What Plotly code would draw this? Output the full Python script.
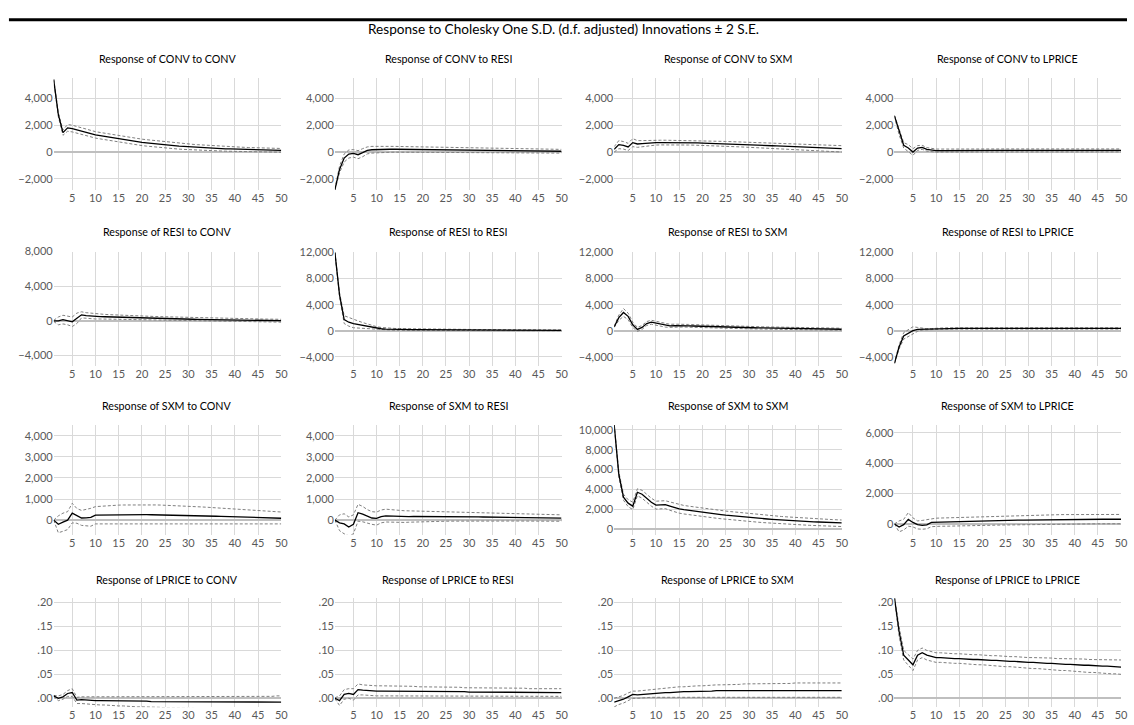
import plotly.graph_objects as go

periods = list(range(1, 51))
variables = ["CONV", "RESI", "SXM", "LPRICE"]

# ---------------- Row 1: Response of CONV ----------------
conv_conv = [5400, 2800, 1450, 1800, 1750, 1650, 1600, 1450, 1350, 1280,
             1220, 1160, 1100, 1040, 980, 920, 870, 820, 770, 720,
             680, 640, 600, 565, 530, 500, 470, 440, 415, 390,
             365, 345, 325, 305, 290, 270, 255, 240, 228, 215,
             203, 192, 182, 172, 163, 155, 147, 139, 132, 125]
conv_conv_up = [5450, 2950, 1650, 2050, 2000, 1900, 1850, 1700, 1600, 1520,
                1460, 1400, 1340, 1280, 1220, 1160, 1110, 1060, 1010, 960,
                920, 880, 840, 800, 765, 730, 695, 660, 630, 600,
                572, 546, 522, 498, 476, 455, 435, 416, 398, 381,
                365, 350, 336, 323, 311, 300, 290, 281, 272, 264]
conv_conv_lo = [5350, 2650, 1250, 1550, 1500, 1400, 1350, 1200, 1100, 1040,
                980, 920, 860, 800, 740, 680, 630, 580, 530, 480,
                440, 400, 360, 330, 295, 265, 240, 215, 195, 175,
                155, 138, 122, 108, 96, 84, 72, 62, 54, 46,
                38, 31, 24, 18, 12, 6, 1, -4, -8, -12]

conv_resi = [-2800, -1300, -450, -150, -100, -200, -50, 120, 170, 190,
             200, 205, 205, 205, 200, 198, 195, 190, 186, 182,
             178, 173, 168, 163, 158, 153, 148, 143, 138, 133,
             128, 123, 118, 113, 108, 104, 100, 96, 92, 88,
             84, 81, 78, 75, 72, 69, 66, 63, 60, 58]
conv_resi_up = [-2750, -1050, -150, 150, 180, 100, 250, 380, 420, 430,
                430, 430, 425, 420, 412, 405, 398, 390, 383, 375,
                368, 360, 352, 345, 338, 330, 323, 316, 309, 302,
                295, 288, 282, 276, 270, 264, 258, 252, 247, 242,
                237, 232, 227, 222, 218, 214, 210, 206, 202, 198]
conv_resi_lo = [-2850, -1550, -750, -450, -380, -500, -350, -140, -80, -50,
                -30, -20, -15, -10, -12, -10, -8, -10, -11, -11,
                -12, -14, -16, -19, -22, -24, -27, -30, -33, -36,
                -39, -42, -46, -50, -54, -56, -58, -60, -63, -66,
                -69, -70, -71, -72, -74, -76, -78, -80, -82, -82]

conv_sxm = [200, 550, 500, 380, 700, 600, 620, 660, 690, 700,
            705, 708, 708, 706, 702, 697, 690, 683, 675, 666,
            656, 645, 634, 622, 610, 597, 584, 570, 556, 542,
            528, 513, 498, 483, 468, 452, 437, 422, 406, 391,
            376, 361, 346, 331, 316, 302, 288, 274, 260, 247]
conv_sxm_up = [400, 850, 780, 650, 1000, 850, 850, 870, 880, 880,
               880, 880, 878, 875, 870, 865, 858, 851, 843, 835,
               826, 817, 808, 798, 788, 778, 767, 756, 745, 733,
               722, 710, 698, 686, 674, 662, 650, 638, 626, 614,
               600, 586, 572, 558, 544, 530, 516, 502, 488, 474]
conv_sxm_lo = [0, 250, 220, 110, 400, 350, 390, 450, 500, 520,
               530, 536, 538, 537, 534, 529, 522, 515, 507, 497,
               486, 473, 460, 446, 432, 416, 401, 384, 367, 351,
               334, 316, 298, 280, 262, 242, 224, 206, 186, 168,
               150, 132, 114, 96, 78, 62, 46, 30, 14, 0]

conv_lprice = [2700, 1500, 500, 300, 0, 300, 350, 200, 130, 100,
               110, 115, 118, 120, 120, 120, 120, 120, 120, 120,
               120, 120, 120, 120, 120, 120, 120, 120, 120, 120,
               120, 120, 120, 120, 120, 120, 120, 120, 120, 120,
               120, 120, 120, 120, 120, 120, 120, 120, 120, 120]
conv_lprice_up = [2750, 1700, 700, 550, 250, 480, 500, 330, 250, 220,
                  220, 225, 228, 230, 230, 230, 230, 230, 230, 230,
                  230, 230, 230, 230, 230, 230, 230, 230, 230, 230,
                  230, 230, 230, 230, 230, 230, 230, 230, 230, 230,
                  230, 230, 230, 230, 230, 230, 230, 230, 230, 230]
conv_lprice_lo = [2650, 1300, 300, 50, -250, 120, 200, 70, 20, -10,
                  0, 5, 8, 10, 10, 10, 10, 10, 10, 10,
                  10, 10, 10, 10, 10, 10, 10, 10, 10, 10,
                  10, 10, 10, 10, 10, 10, 10, 10, 10, 10,
                  10, 10, 10, 10, 10, 10, 10, 10, 10, 10]

# ---------------- Row 2: Response of RESI ----------------
resi_conv = [0, 0, 150, 50, -100, 300, 700, 620, 560, 520,
             500, 480, 460, 440, 420, 400, 385, 370, 355, 340,
             325, 310, 296, 282, 268, 255, 242, 229, 216, 204,
             192, 180, 168, 157, 146, 135, 125, 115, 105, 96,
             87, 78, 70, 62, 54, 47, 40, 34, 28, 22]
resi_conv_up = [60, 450, 650, 550, 450, 900, 1050, 950, 880, 820,
                780, 750, 720, 690, 665, 640, 620, 600, 580, 560,
                540, 522, 505, 488, 472, 456, 440, 425, 410, 396,
                382, 368, 355, 342, 330, 318, 306, 295, 284, 273,
                263, 253, 243, 234, 225, 216, 208, 200, 192, 185]
resi_conv_lo = [-60, -450, -350, -450, -650, -300, 350, 290, 240, 220,
                220, 210, 200, 190, 175, 160, 150, 140, 130, 120,
                110, 98, 87, 76, 64, 54, 44, 33, 22, 12,
                2, -8, -19, -28, -38, -48, -56, -65, -74, -81,
                -89, -97, -103, -110, -117, -122, -128, -132, -136, -141]

resi_resi = [12000, 5500, 1700, 1300, 1100, 950, 800, 650, 500, 380,
             300, 250, 220, 200, 190, 180, 172, 165, 158, 152,
             146, 140, 135, 130, 125, 120, 116, 112, 108, 104,
             100, 96, 93, 90, 87, 84, 81, 78, 75, 72,
             70, 68, 66, 64, 62, 60, 58, 56, 54, 52]
resi_resi_up = [12050, 5800, 2300, 2000, 1750, 1500, 1250, 1000, 800, 620,
                500, 420, 370, 340, 320, 305, 292, 280, 270, 260,
                251, 242, 234, 226, 219, 212, 206, 200, 194, 188,
                183, 178, 173, 168, 164, 160, 156, 152, 148, 145,
                142, 139, 136, 133, 130, 127, 124, 121, 118, 116]
resi_resi_lo = [11950, 5200, 1100, 700, 450, 400, 350, 300, 220, 150,
                100, 80, 70, 60, 60, 55, 52, 50, 46, 44,
                41, 38, 36, 34, 31, 28, 26, 24, 22, 20,
                17, 14, 13, 12, 10, 8, 6, 4, 2, 0,
                -2, -3, -4, -5, -6, -7, -8, -9, -10, -12]

resi_sxm = [600, 2000, 2800, 2200, 900, 200, 500, 1100, 1300, 1150,
            950, 800, 750, 780, 800, 780, 750, 720, 690, 660,
            640, 620, 600, 580, 560, 540, 520, 500, 482, 465,
            450, 435, 420, 405, 390, 376, 362, 348, 335, 322,
            310, 298, 287, 276, 266, 256, 247, 238, 229, 220]
resi_sxm_up = [700, 2400, 3400, 2700, 1300, 500, 800, 1400, 1600, 1450,
               1250, 1050, 980, 1000, 1020, 990, 960, 930, 900, 870,
               845, 820, 795, 770, 748, 726, 705, 684, 664, 645,
               627, 610, 593, 577, 561, 546, 531, 517, 503, 490,
               477, 465, 453, 441, 430, 419, 408, 398, 388, 378]
resi_sxm_lo = [500, 1600, 2200, 1700, 500, -100, 200, 800, 1000, 850,
               650, 550, 520, 560, 580, 570, 540, 510, 480, 450,
               435, 420, 405, 390, 372, 354, 335, 316, 300, 285,
               273, 260, 247, 233, 219, 206, 193, 179, 167, 154,
               143, 131, 121, 111, 102, 93, 86, 78, 70, 62]

resi_lprice = [-5000, -2500, -800, -400, 0, 200, 230, 200, 220, 300,
               330, 340, 345, 348, 350, 350, 350, 350, 350, 350,
               350, 350, 350, 350, 350, 350, 350, 350, 350, 350,
               350, 350, 350, 350, 350, 350, 350, 350, 350, 350,
               350, 350, 350, 350, 350, 350, 350, 350, 350, 350]
resi_lprice_up = [-4950, -2200, -300, 100, 600, 500, 350, 300, 330, 400,
                  430, 440, 445, 448, 450, 450, 450, 450, 450, 450,
                  450, 450, 450, 450, 450, 450, 450, 450, 450, 450,
                  450, 450, 450, 450, 450, 450, 450, 450, 450, 450,
                  450, 450, 450, 450, 450, 450, 450, 450, 450, 450]
resi_lprice_lo = [-5050, -2800, -1300, -900, -500, -100, 100, 100, 110, 200,
                  230, 240, 245, 248, 250, 250, 250, 250, 250, 250,
                  250, 250, 250, 250, 250, 250, 250, 250, 250, 250,
                  250, 250, 250, 250, 250, 250, 250, 250, 250, 250,
                  250, 250, 250, 250, 250, 250, 250, 250, 250, 250]

# ---------------- Row 3: Response of SXM ----------------
sxm_conv = [0, -200, -100, 0, 330, 200, 100, 110, 130, 240,
            245, 248, 250, 252, 254, 256, 258, 260, 260, 260,
            258, 256, 253, 250, 246, 242, 238, 233, 228, 222,
            216, 210, 204, 197, 190, 183, 176, 169, 162, 155,
            148, 141, 134, 127, 120, 113, 107, 101, 95, 89]
sxm_conv_up = [0, 200, 330, 400, 800, 550, 460, 500, 560, 640,
               660, 680, 695, 705, 712, 718, 722, 725, 727, 728,
               727, 724, 720, 715, 709, 701, 692, 683, 672, 661,
               649, 637, 624, 611, 597, 583, 569, 555, 540, 526,
               512, 497, 483, 468, 454, 440, 426, 412, 398, 385]
sxm_conv_lo = [0, -600, -530, -450, -130, -150, -250, -260, -290, -180,
               -180, -182, -184, -186, -188, -190, -192, -193, -194, -195,
               -196, -197, -197, -197, -197, -197, -197, -196, -196, -195,
               -194, -193, -192, -191, -190, -189, -188, -187, -186, -185,
               -184, -183, -183, -182, -182, -181, -181, -180, -180, -180]

sxm_resi = [0, -130, -180, -330, -200, 350, 280, 180, 100, 80,
            170, 200, 190, 170, 160, 165, 170, 172, 173, 173,
            172, 171, 170, 168, 166, 164, 162, 160, 158, 156,
            154, 151, 149, 146, 143, 140, 137, 134, 131, 128,
            125, 122, 119, 116, 113, 110, 107, 104, 101, 98]
sxm_resi_up = [0, 250, 300, 150, 250, 750, 650, 500, 400, 380,
               480, 520, 500, 470, 450, 445, 440, 435, 430, 425,
               420, 414, 408, 402, 396, 390, 384, 378, 372, 366,
               360, 354, 348, 342, 336, 330, 324, 318, 312, 306,
               300, 294, 288, 282, 276, 270, 265, 260, 255, 250]
sxm_resi_lo = [0, -500, -650, -750, -650, -50, -80, -150, -200, -240,
               -130, -90, -100, -110, -120, -110, -100, -90, -82, -75,
               -70, -65, -60, -56, -52, -49, -46, -44, -42, -41,
               -40, -40, -40, -40, -40, -40, -41, -42, -43, -44,
               -45, -46, -47, -48, -49, -50, -51, -52, -53, -54]

sxm_sxm = [10500, 5500, 3200, 2600, 2300, 3700, 3500, 3100, 2700, 2400,
           2450, 2450, 2300, 2150, 2020, 1940, 1870, 1800, 1740, 1680,
           1620, 1560, 1500, 1445, 1390, 1340, 1290, 1245, 1200, 1155,
           1115, 1075, 1035, 1000, 965, 930, 900, 870, 840, 815,
           790, 765, 742, 720, 698, 678, 658, 640, 622, 605]
sxm_sxm_up = [10550, 5750, 3500, 2950, 2700, 4050, 3900, 3500, 3100, 2800,
              2850, 2850, 2720, 2580, 2450, 2370, 2300, 2230, 2165, 2100,
              2040, 1980, 1920, 1862, 1805, 1752, 1700, 1652, 1605, 1558,
              1500, 1455, 1410, 1370, 1330, 1290, 1255, 1220, 1185, 1155,
              1125, 1095, 1065, 1038, 1012, 987, 963, 940, 918, 900]
sxm_sxm_lo = [10450, 5250, 2900, 2250, 1950, 3350, 3100, 2700, 2300, 2000,
              2050, 2050, 1880, 1720, 1590, 1510, 1440, 1370, 1315, 1260,
              1200, 1140, 1080, 1028, 975, 928, 880, 838, 795, 752,
              715, 677, 640, 605, 570, 539, 510, 482, 455, 431,
              408, 385, 364, 344, 324, 306, 288, 272, 256, 240]

sxm_lprice = [0, -200, -50, 300, 100, -50, -100, -60, 100, 110,
              115, 120, 125, 130, 135, 145, 155, 165, 175, 185,
              195, 205, 215, 223, 230, 238, 245, 252, 258, 264,
              270, 275, 280, 284, 288, 292, 295, 298, 300, 302,
              304, 306, 307, 308, 309, 310, 310, 311, 311, 311]
sxm_lprice_up = [0, 200, 300, 750, 400, 200, 230, 280, 350, 380,
                 390, 400, 410, 420, 430, 442, 455, 467, 480, 492,
                 503, 514, 525, 535, 545, 554, 562, 570, 577, 584,
                 590, 595, 600, 604, 608, 611, 614, 616, 618, 620,
                 621, 622, 623, 624, 624, 625, 625, 625, 625, 625]
sxm_lprice_lo = [0, -520, -400, -150, -200, -330, -350, -320, -180, -150,
                 -150, -150, -148, -145, -140, -133, -125, -117, -110, -103,
                 -95, -87, -80, -73, -67, -60, -53, -47, -41, -36,
                 -30, -25, -20, -16, -12, -8, -5, -2, 0, 2,
                 4, 6, 7, 8, 9, 10, 10, 11, 11, 11]

# ---------------- Row 4: Response of LPRICE ----------------
lprice_conv = [0.005, 0.000, 0.003, 0.010, 0.012, -0.004, -0.003, -0.004, -0.005, -0.005,
               -0.005, -0.005, -0.005, -0.005, -0.006, -0.006, -0.006, -0.006, -0.006, -0.006,
               -0.006, -0.007, -0.007, -0.007, -0.007, -0.007, -0.007, -0.007, -0.007, -0.007,
               -0.008, -0.008, -0.008, -0.008, -0.008, -0.008, -0.008, -0.008, -0.008, -0.008,
               -0.008, -0.008, -0.008, -0.008, -0.008, -0.008, -0.008, -0.008, -0.008, -0.008]
lprice_conv_up = [0.006, 0.005, 0.008, 0.016, 0.020, 0.002, 0.003, 0.003, 0.003, 0.003,
                  0.003, 0.003, 0.003, 0.003, 0.003, 0.003, 0.003, 0.003, 0.003, 0.003,
                  0.003, 0.003, 0.003, 0.003, 0.003, 0.003, 0.003, 0.003, 0.003, 0.003,
                  0.003, 0.003, 0.003, 0.003, 0.003, 0.004, 0.004, 0.004, 0.004, 0.004,
                  0.004, 0.004, 0.004, 0.004, 0.004, 0.004, 0.004, 0.004, 0.005, 0.005]
lprice_conv_lo = [0.004, -0.005, -0.002, 0.004, 0.004, -0.011, -0.011, -0.012, -0.013, -0.013,
                  -0.014, -0.014, -0.015, -0.015, -0.016, -0.016, -0.017, -0.017, -0.018, -0.018,
                  -0.018, -0.019, -0.019, -0.019, -0.020, -0.020, -0.020, -0.021, -0.021, -0.021,
                  -0.021, -0.022, -0.022, -0.022, -0.022, -0.022, -0.022, -0.023, -0.023, -0.023,
                  -0.023, -0.023, -0.023, -0.023, -0.023, -0.023, -0.023, -0.023, -0.023, -0.023]

lprice_resi = [0.000, -0.005, 0.008, 0.010, 0.008, 0.018, 0.017, 0.016, 0.015, 0.015,
               0.015, 0.015, 0.015, 0.015, 0.015, 0.015, 0.015, 0.015, 0.014, 0.014,
               0.014, 0.014, 0.014, 0.014, 0.014, 0.014, 0.014, 0.014, 0.014, 0.013,
               0.013, 0.013, 0.013, 0.013, 0.013, 0.013, 0.013, 0.013, 0.013, 0.013,
               0.013, 0.013, 0.012, 0.012, 0.012, 0.012, 0.012, 0.012, 0.012, 0.012]
lprice_resi_up = [0.001, 0.005, 0.018, 0.020, 0.020, 0.030, 0.028, 0.027, 0.026, 0.026,
                  0.026, 0.026, 0.026, 0.025, 0.025, 0.025, 0.025, 0.025, 0.024, 0.024,
                  0.024, 0.024, 0.024, 0.023, 0.023, 0.023, 0.023, 0.023, 0.022, 0.022,
                  0.022, 0.022, 0.022, 0.022, 0.021, 0.021, 0.021, 0.021, 0.021, 0.021,
                  0.021, 0.021, 0.020, 0.020, 0.020, 0.020, 0.020, 0.020, 0.020, 0.020]
lprice_resi_lo = [-0.001, -0.015, -0.002, 0.000, -0.004, 0.007, 0.007, 0.006, 0.005, 0.005,
                  0.005, 0.005, 0.005, 0.005, 0.005, 0.005, 0.005, 0.005, 0.005, 0.005,
                  0.005, 0.005, 0.005, 0.005, 0.005, 0.005, 0.005, 0.005, 0.005, 0.005,
                  0.005, 0.005, 0.005, 0.005, 0.005, 0.004, 0.004, 0.004, 0.004, 0.004,
                  0.004, 0.004, 0.004, 0.004, 0.004, 0.004, 0.004, 0.004, 0.004, 0.004]

lprice_sxm = [-0.008, -0.005, -0.002, 0.003, 0.008, 0.007, 0.008, 0.009, 0.010, 0.011,
              0.011, 0.012, 0.012, 0.013, 0.013, 0.014, 0.014, 0.014, 0.015, 0.015,
              0.015, 0.015, 0.016, 0.016, 0.016, 0.016, 0.016, 0.016, 0.017, 0.017,
              0.017, 0.017, 0.017, 0.017, 0.017, 0.017, 0.017, 0.017, 0.017, 0.017,
              0.017, 0.017, 0.016, 0.016, 0.016, 0.016, 0.016, 0.016, 0.016, 0.016]
lprice_sxm_up = [0.000, 0.003, 0.006, 0.011, 0.015, 0.015, 0.016, 0.017, 0.019, 0.020,
                 0.021, 0.022, 0.022, 0.023, 0.024, 0.024, 0.025, 0.025, 0.026, 0.026,
                 0.027, 0.027, 0.028, 0.028, 0.028, 0.029, 0.029, 0.029, 0.030, 0.030,
                 0.030, 0.030, 0.031, 0.031, 0.031, 0.031, 0.031, 0.031, 0.031, 0.032,
                 0.032, 0.032, 0.032, 0.032, 0.032, 0.032, 0.032, 0.032, 0.032, 0.032]
lprice_sxm_lo = [-0.018, -0.013, -0.010, -0.005, 0.000, 0.000, 0.001, 0.001, 0.002, 0.002,
                 0.002, 0.002, 0.003, 0.003, 0.003, 0.003, 0.003, 0.003, 0.003, 0.003,
                 0.003, 0.003, 0.003, 0.003, 0.003, 0.003, 0.003, 0.003, 0.003, 0.003,
                 0.003, 0.003, 0.003, 0.003, 0.003, 0.003, 0.002, 0.002, 0.002, 0.002,
                 0.002, 0.002, 0.002, 0.002, 0.002, 0.002, 0.002, 0.002, 0.002, 0.002]

lprice_lprice = [0.210, 0.140, 0.090, 0.080, 0.070, 0.090, 0.095, 0.090, 0.087, 0.085,
                 0.085, 0.084, 0.084, 0.083, 0.083, 0.082, 0.082, 0.081, 0.081, 0.080,
                 0.080, 0.079, 0.079, 0.078, 0.078, 0.077, 0.077, 0.076, 0.076, 0.075,
                 0.075, 0.074, 0.074, 0.073, 0.073, 0.072, 0.072, 0.071, 0.071, 0.070,
                 0.070, 0.069, 0.069, 0.068, 0.068, 0.067, 0.067, 0.066, 0.066, 0.065]
lprice_lprice_up = [0.212, 0.150, 0.100, 0.090, 0.082, 0.100, 0.105, 0.100, 0.097, 0.095,
                    0.095, 0.094, 0.094, 0.093, 0.093, 0.092, 0.092, 0.091, 0.091, 0.090,
                    0.090, 0.089, 0.089, 0.088, 0.088, 0.087, 0.087, 0.086, 0.086, 0.085,
                    0.085, 0.085, 0.084, 0.084, 0.084, 0.083, 0.083, 0.083, 0.082, 0.082,
                    0.082, 0.082, 0.081, 0.081, 0.081, 0.081, 0.080, 0.080, 0.080, 0.080]
lprice_lprice_lo = [0.208, 0.130, 0.080, 0.070, 0.058, 0.080, 0.085, 0.080, 0.077, 0.075,
                    0.075, 0.074, 0.074, 0.073, 0.073, 0.072, 0.072, 0.071, 0.070, 0.070,
                    0.069, 0.068, 0.068, 0.067, 0.066, 0.066, 0.065, 0.064, 0.064, 0.063,
                    0.062, 0.062, 0.061, 0.060, 0.060, 0.059, 0.058, 0.058, 0.057, 0.056,
                    0.056, 0.055, 0.054, 0.054, 0.053, 0.053, 0.052, 0.051, 0.051, 0.050]

panels = [
    [(conv_conv, conv_conv_up, conv_conv_lo), (conv_resi, conv_resi_up, conv_resi_lo),
     (conv_sxm, conv_sxm_up, conv_sxm_lo), (conv_lprice, conv_lprice_up, conv_lprice_lo)],
    [(resi_conv, resi_conv_up, resi_conv_lo), (resi_resi, resi_resi_up, resi_resi_lo),
     (resi_sxm, resi_sxm_up, resi_sxm_lo), (resi_lprice, resi_lprice_up, resi_lprice_lo)],
    [(sxm_conv, sxm_conv_up, sxm_conv_lo), (sxm_resi, sxm_resi_up, sxm_resi_lo),
     (sxm_sxm, sxm_sxm_up, sxm_sxm_lo), (sxm_lprice, sxm_lprice_up, sxm_lprice_lo)],
    [(lprice_conv, lprice_conv_up, lprice_conv_lo), (lprice_resi, lprice_resi_up, lprice_resi_lo),
     (lprice_sxm, lprice_sxm_up, lprice_sxm_lo), (lprice_lprice, lprice_lprice_up, lprice_lprice_lo)],
]

# tick values / labels per panel
x_ticks = [5, 10, 15, 20, 25, 30, 35, 40, 45, 50]
ticks_conv = [-2000, 0, 2000, 4000]
ticks_resi_a = [-4000, 0, 4000, 8000]
ticks_resi_b = [-4000, 0, 4000, 8000, 12000]
ticks_sxm_a = [0, 1000, 2000, 3000, 4000]
ticks_sxm_b = [0, 2000, 4000, 6000, 8000, 10000]
ticks_sxm_c = [0, 2000, 4000, 6000]
ticks_lprice = [0.0, 0.05, 0.10, 0.15, 0.20]
ticks_lprice_text = [".00", ".05", ".10", ".15", ".20"]

y_ticks = [
    [ticks_conv] * 4,
    [ticks_resi_a, ticks_resi_b, ticks_resi_b, ticks_resi_b],
    [ticks_sxm_a, ticks_sxm_a, ticks_sxm_b, ticks_sxm_c],
    [ticks_lprice] * 4,
]
y_ranges = [
    [[-2850, 5500]] * 4,
    [[-5150, 8000], [-5350, 12150], [-5350, 12150], [-5350, 12150]],
    [[-700, 4520], [-700, 4520], [-600, 10500], [-720, 6530]],
    [[-0.0186, 0.209]] * 4,
]

# layout geometry in pixels
W, H = 1134, 725
col_px = [(54, 283), (337, 565), (618, 847), (900, 1128)]
row_px = [(72, 185), (247, 362), (422, 533), (597, 707)]
title_y_px = [52, 227, 402, 578]

fig = go.Figure()
layout = dict(
    width=W, height=H, margin=dict(l=0, r=0, t=0, b=0),
    paper_bgcolor="white", plot_bgcolor="white", showlegend=False,
    font=dict(family="Lato, Carlito, sans-serif", size=11, color="#595959"),
)
annotations = []
GRID = "#d9d9d9"
for r in range(4):
    for c in range(4):
        k = r * 4 + c + 1
        sfx = "" if k == 1 else str(k)
        resp, up, lo = panels[r][c]
        for ys, dash, color, w in ((up, "3px,2px", "#7f7f7f", 1), (lo, "3px,2px", "#7f7f7f", 1),
                                   (resp, "solid", "#000000", 1.3)):
            fig.add_trace(go.Scatter(x=periods, y=ys, mode="lines", xaxis="x" + sfx, yaxis="y" + sfx,
                                     line=dict(color=color, width=w, dash=dash), hoverinfo="skip"))
        x0, x1 = col_px[c]
        y0, y1 = row_px[r]
        layout["xaxis" + sfx] = dict(
            domain=[x0 / W, x1 / W], anchor="y" + sfx, range=[1, 50],
            tickvals=x_ticks, showgrid=True, gridcolor=GRID, gridwidth=1,
            zeroline=False, showline=False, ticks="", ticklen=0,
            tickfont=dict(size=11, color="#595959"),
        )
        yd = dict(
            domain=[1 - y1 / H, 1 - y0 / H], anchor="x" + sfx, range=y_ranges[r][c],
            tickvals=y_ticks[r][c], showgrid=True, gridcolor=GRID, gridwidth=1,
            zeroline=True, zerolinecolor="#bfbfbf", zerolinewidth=1.5,
            showline=False, ticks="", ticklen=0, tickfont=dict(size=11, color="#595959"),
        )
        if r == 3:
            yd["ticktext"] = ticks_lprice_text
        else:
            yd["tickformat"] = ",d"
        layout["yaxis" + sfx] = yd
        annotations.append(dict(
            text=f"Response of {variables[r]} to {variables[c]}", x=(x0 + x1) / 2 / W,
            y=1 - title_y_px[r] / H, xref="paper", yref="paper", showarrow=False,
            xanchor="center", yanchor="middle", font=dict(size=10.7, color="#000000"),
        ))

annotations.append(dict(
    text="Response to Cholesky One S.D. (d.f. adjusted) Innovations ± 2 S.E.",
    x=0.5, y=1 - 22 / H, xref="paper", yref="paper", showarrow=False,
    xanchor="center", yanchor="middle", font=dict(size=13.6, color="#000000"),
))
layout["annotations"] = annotations
layout["shapes"] = [dict(type="line", xref="paper", yref="paper", x0=9 / W, x1=1, y0=1 - 13 / H,
                         y1=1 - 13 / H, line=dict(color="black", width=3))]
fig.update_layout(**layout)
fig.write_html("out.html")
